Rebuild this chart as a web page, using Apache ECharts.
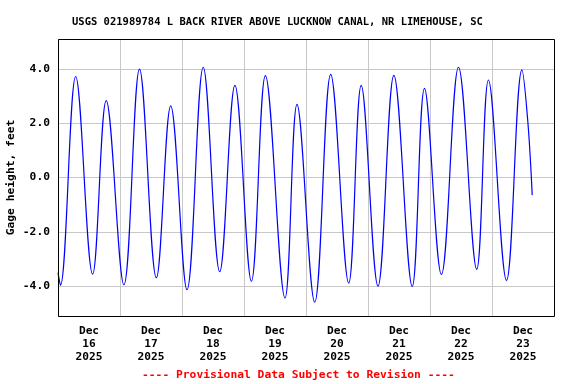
<!DOCTYPE html>
<html>
<head>
<meta charset="utf-8">
<script src="https://cdn.jsdelivr.net/npm/echarts@6/dist/echarts.min.js"></script>
<style>html,body{margin:0;padding:0;background:#fff}#c{width:576px;height:384px}</style>
</head>
<body>
<div id="c"></div>
<script>
const titleText = 'USGS 021989784 L BACK RIVER ABOVE LUCKNOW CANAL, NR LIMEHOUSE, SC';
const footerText = '---- Provisional Data Subject to Revision ----';
const yAxisName = 'Gage height, feet';
const dayLabels = ['Dec\n16\n2025','Dec\n17\n2025','Dec\n18\n2025','Dec\n19\n2025','Dec\n20\n2025','Dec\n21\n2025','Dec\n22\n2025','Dec\n23\n2025'];
const xStart = '2025-12-16 00:00';
const xEnd = '2025-12-24 00:00';
const yMin = -5.1, yMax = 5.1;
// highs and lows (plus first and last readings)
const times = [
 '2025-12-16 00:00','2025-12-16 00:56','2025-12-16 06:51','2025-12-16 13:24','2025-12-16 18:40',
 '2025-12-17 01:31','2025-12-17 07:33','2025-12-17 14:05','2025-12-17 19:38',
 '2025-12-18 01:56','2025-12-18 08:13','2025-12-18 14:36','2025-12-18 20:29',
 '2025-12-19 02:52','2025-12-19 08:17','2025-12-19 15:52','2025-12-19 20:31',
 '2025-12-20 03:22','2025-12-20 09:34','2025-12-20 16:32','2025-12-20 21:22',
 '2025-12-21 03:52','2025-12-21 10:01','2025-12-21 17:07','2025-12-21 21:52',
 '2025-12-22 04:25','2025-12-22 11:02','2025-12-22 18:05','2025-12-22 22:37',
 '2025-12-23 05:37','2025-12-23 11:35','2025-12-23 13:50','2025-12-23 15:34'
];
const gageHeight = [
 -3.50,-3.97,3.72,-3.56,2.83,
 -3.95,3.99,-3.69,2.64,
 -4.13,4.06,-3.47,3.39,
 -3.82,3.75,-4.44,2.69,
 -4.59,3.80,-3.89,3.39,
 -4.00,3.76,-4.01,3.28,
 -3.57,4.06,-3.38,3.59,
 -3.79,3.96,2.1,-0.65
];
const seriesData = times.map((t, i) => [t, gageHeight[i]]);
const FONT = 'DejaVu Sans Mono';
const chart = echarts.init(document.getElementById('c'), null, {renderer: 'canvas'});
chart.setOption({
  animation: false,
  backgroundColor: '#fff',
  title: {
    text: titleText, left: 67, top: 12,
    textStyle: {fontFamily: FONT, fontWeight: 'bold', fontSize: 10.5, color: '#000'}
  },
  graphic: [
    {type: 'text', left: 142, top: 370, style: {text: footerText, fill: '#ff0000', font: 'bold 11.3px "DejaVu Sans Mono"'}},
    {type: 'rect', shape: {x: 58.5, y: 39.5, width: 496, height: 277}, style: {fill: null, stroke: '#000', lineWidth: 1}, z: 100}
  ],
  grid: {left: 58, top: 39, width: 496, height: 277, containLabel: false, outerBoundsMode: 'none'},
  xAxis: [
    {type: 'time', min: xStart, max: xEnd, show: false},
    {type: 'category', data: dayLabels, boundaryGap: true, position: 'bottom',
     axisLine: {show: false}, axisTick: {show: false},
     axisLabel: {interval: 0, margin: 9, fontFamily: FONT, fontWeight: 'bold', fontSize: 11.2, lineHeight: 13, color: '#000'},
     splitLine: {show: true, lineStyle: {color: '#c8c8c8', width: 1}}}
  ],
  yAxis: {
    type: 'value', min: yMin, max: yMax, splitNumber: 5,
    name: yAxisName, nameLocation: 'middle', nameRotate: 90, nameGap: 41, nameMoveOverlap: false,
    nameTextStyle: {fontFamily: FONT, fontWeight: 'bold', fontSize: 11.3, color: '#000'},
    axisLine: {show: false}, axisTick: {show: false},
    axisLabel: {margin: 8, showMinLabel: false, showMaxLabel: false, fontFamily: FONT, fontWeight: 'bold', fontSize: 11.3, color: '#000',
      formatter: v => v.toFixed(1)},
    splitLine: {show: true, lineStyle: {color: '#c8c8c8', width: 1}}
  },
  series: [{
    type: 'line', xAxisIndex: 0, data: seriesData, showSymbol: false, smooth: 0.38,
    lineStyle: {color: '#0000ff', width: 1.2}
  }]
});
</script>
</body>
</html>
